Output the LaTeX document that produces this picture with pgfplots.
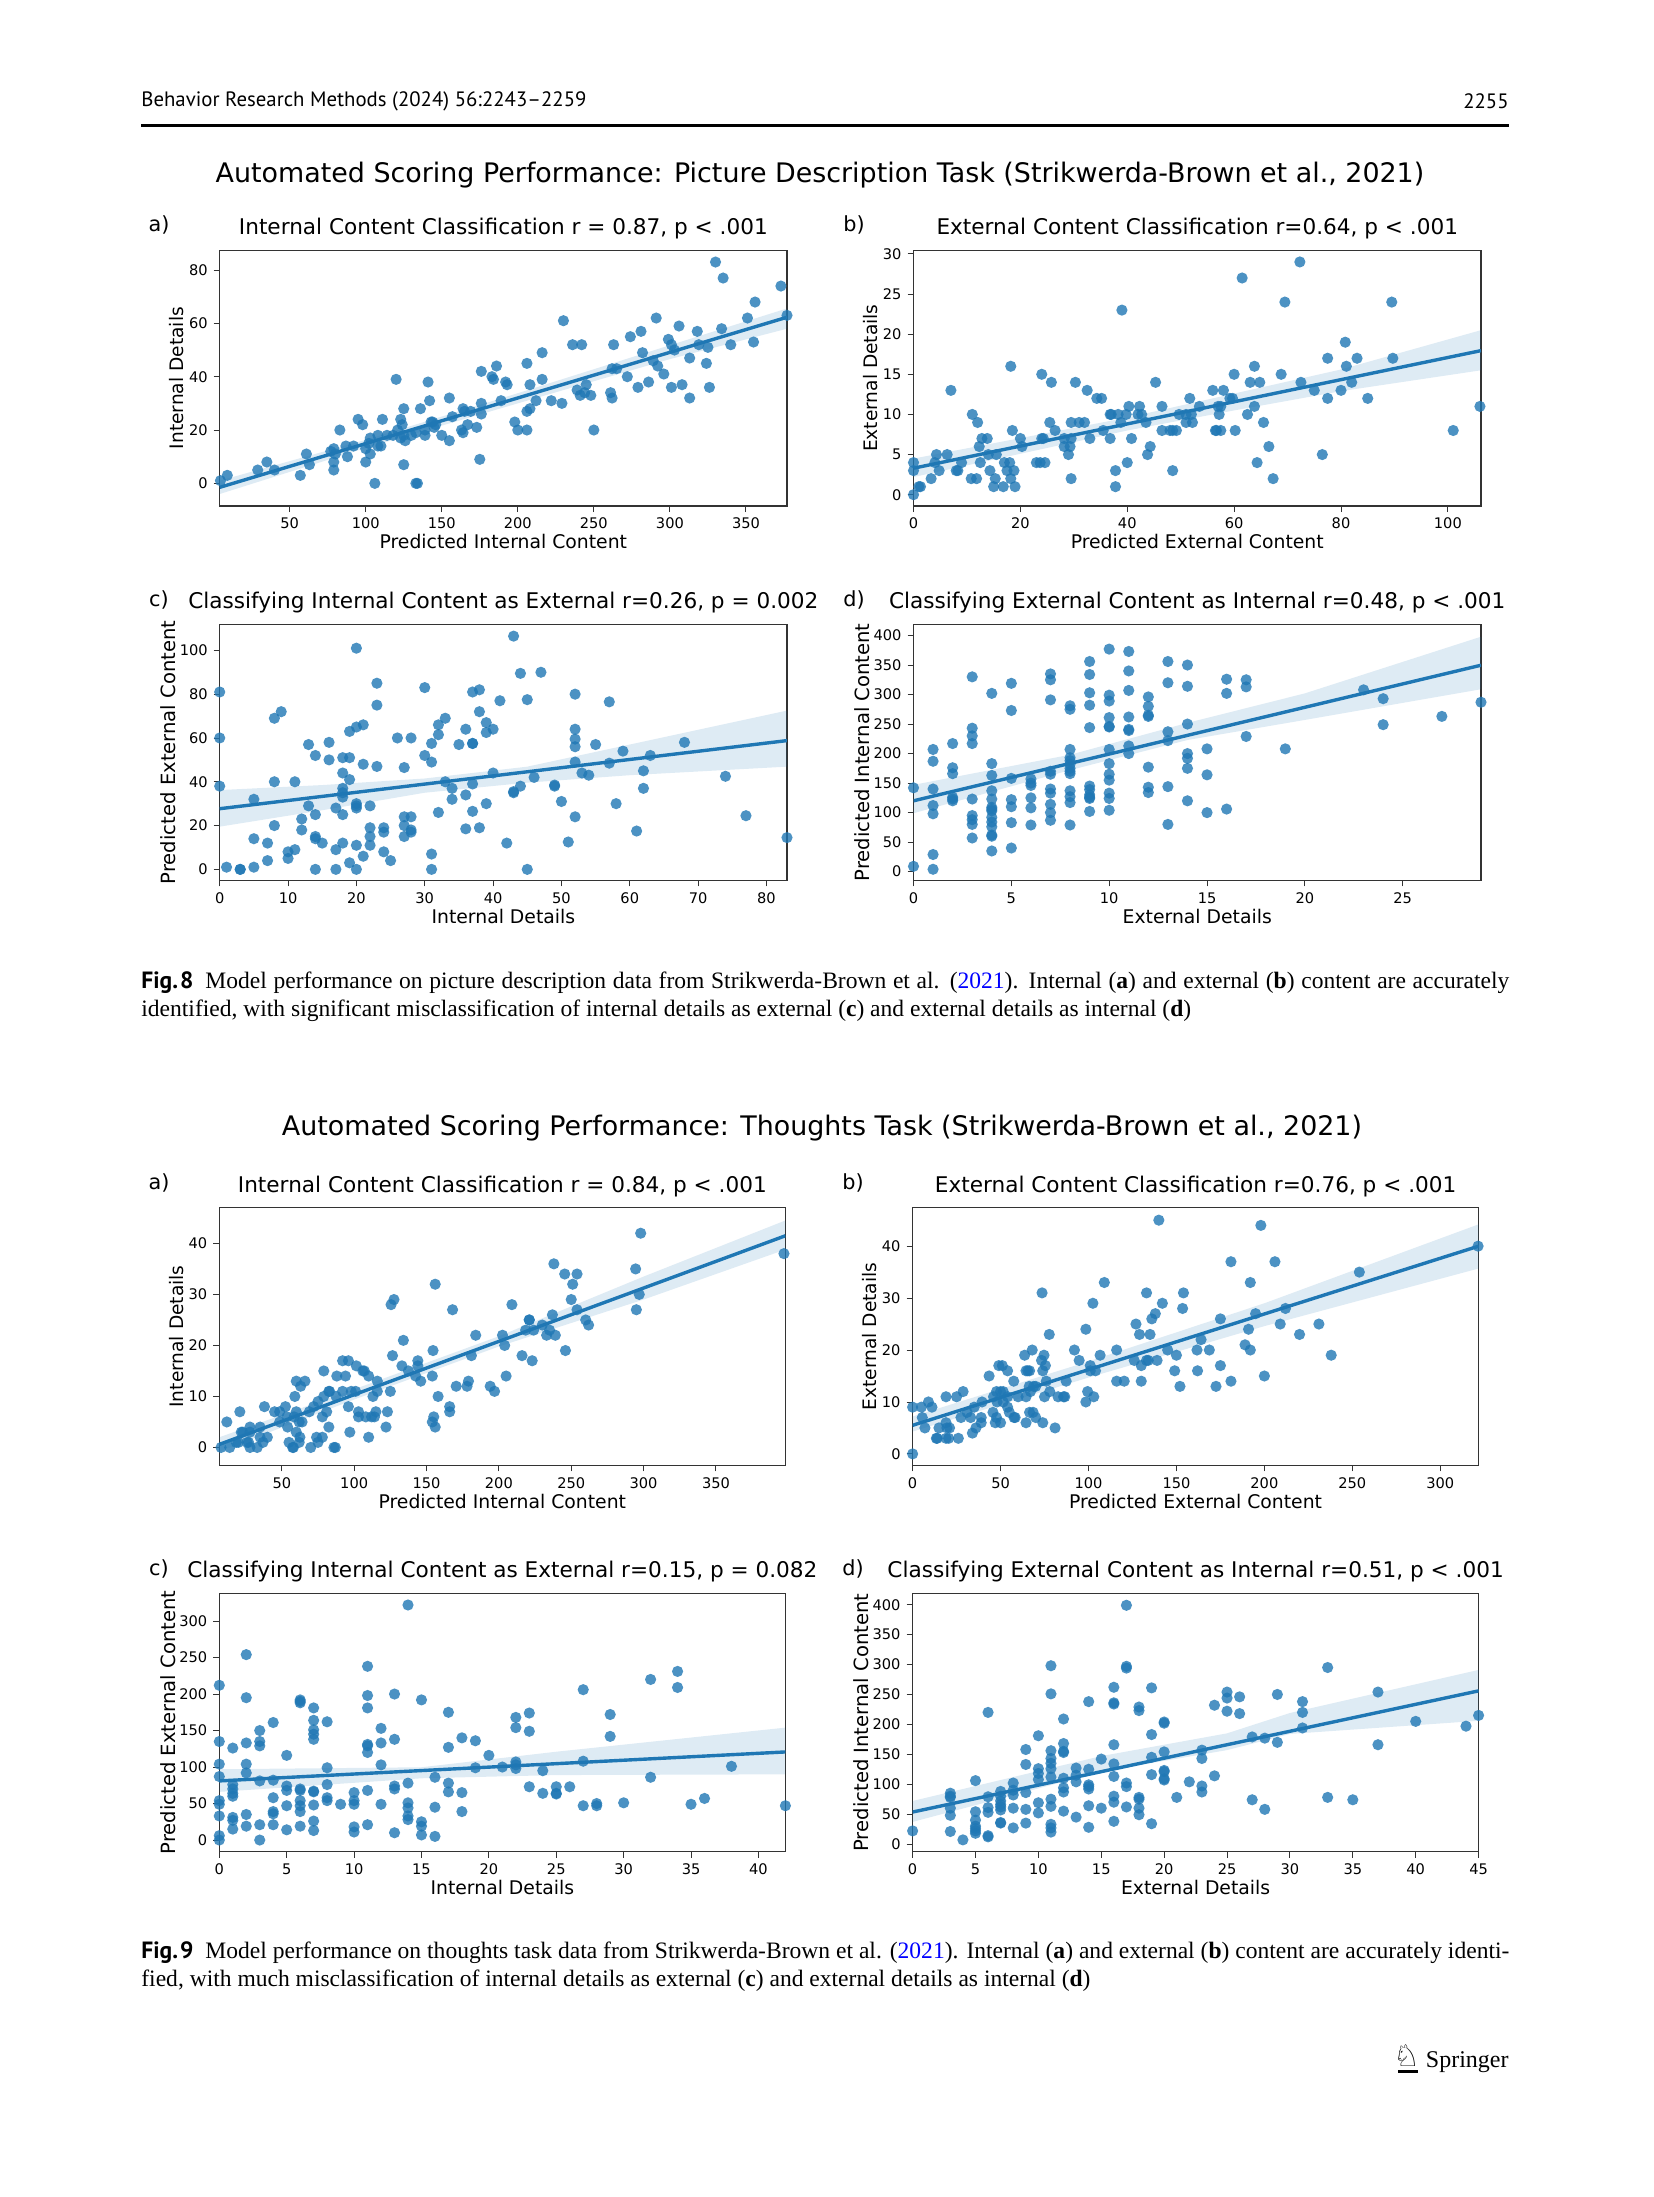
\documentclass[border=0pt]{standalone}
\usepackage{pgfplots}
\pgfplotsset{compat=1.18}
\usepackage{xcolor}
\usepackage{fontspec}
\setmainfont{DejaVu Sans}
\newfontfamily\capfont{Liberation Serif}
\newfontfamily\headfont{PT Sans}
\definecolor{tblue}{HTML}{1F77B4}
\newcommand{\fsz}[1]{\fontsize{#1}{#1}\selectfont}

% picture is 827 x 1098.5 pt, so 1 px of the reference = 0.5 pt
\pgfplotsset{
  panel/.style={
    scale only axis,
    axis line style={black!80,line width=0.55pt},
    tick align=outside,
    xtick pos=bottom, ytick pos=left,
    major tick length=3pt,
    tick style={black!80,line width=0.45pt},
    /pgf/number format/assume math mode=true,
    tick label style={font=\fsz{7.3}},
    xticklabel style={yshift=0.5pt},
    yticklabel style={xshift=0.5pt},
    title style={font=\fsz{10.8},at={(0.5,1)},anchor=center,yshift=4.8pt},
    xlabel style={font=\fsz{9.4},at={(axis description cs:0.5,-0.14)},anchor=center},
    scaled ticks=false,
  },
  ylabnear/.style={ylabel style={font=\fsz{9.3},at={(axis description cs:-0.076,0.5)},anchor=center}},
  ylabfar/.style={ylabel style={font=\fsz{9.8},at={(axis description cs:-0.09,0.5)},anchor=center}},
  dots/.style={only marks,mark=*,mark size=2.8pt,mark options={draw opacity=0,fill=tblue,fill opacity=0.8}},
  ci/.style={draw=none,fill=tblue,fill opacity=0.15,forget plot},
  fit/.style={tblue,line width=1.7pt,no marks},
}

\begin{document}
\begin{tikzpicture}
\useasboundingbox (0,0) rectangle (827pt,-1098.5pt);

% ---- Fig 8
\begin{axis}[panel,ylabnear,at={(109.85pt,-253pt)},anchor=south west,width=283.65pt,height=127.85pt,
  xmin=4,xmax=377,ymin=-8.5,ymax=87.4,
  xtick={50,100,150,200,250,300,350},ytick={0,20,40,60,80},
  title={Internal Content Classification r = 0.87, p < .001},
  xlabel={Predicted Internal Content},ylabel={Internal Details}]
\addplot[dots] coordinates {(4.5,1)(9,3)(29,5)(35,8)(40,5)(57,3)(61,11)(63,7)(77,12)(79,13)(79,8)(79,5)(80,11)(83,20)(87,14)(88,10)(92,14)(95,24)(98,22)(100,13)(100,8)(103,11)(103,17)(102,15)(106,0)(108,18)(108,14)(110,14)(111,24)(114,18)(118,18)(120,39)(121,20)(123,24)(124,22)(123,17)(125,18)(125,28)(125,7)(126,16)(130,18)(133,19)(133,0)(134,0)(136,28)(139,20)(139,18)(141,38)(142,31)(143,23)(144,23)(145,21)(146,22)(150,18)(155,32)(155,16)(157,25)(163,20)(164,19)(164,28)(165,27)(167,22)(169,27)(173,21)(175,9)(176,26)(176,42)(176,30)(183,40)(184,39)(186,44)(189,31)(192,38)(193,37)(198,23)(200,20)(206,45)(206,20)(206,27)(208,28)(208,37)(212,31)(216,49)(216,39)(222,31)(229,30)(230,61)(236,52)(239,35)(241,33)(242,52)(244,34)(245,37)(248,33)(250,20)(261,34)(262,43)(262,32)(263,52)(265,43)(272,40)(274,55)(279,36)(281,57)(282,49)(286,38)(289,46)(291,62)(292,44)(296,41)(299,54)(301,52)(301,36)(303,50)(306,59)(308,37)(313,47)(313,32)(318,57)(319,52)(324,45)(325,51)(326,36)(330,83)(334,58)(335,77)(340,52)(351,62)(355,53)(356,68)(373,74)(377,63)};
\addplot[ci] coordinates {(4,1)(100,16.3)(200,33.8)(300,51.8)(377,65.6)(377,58)(300,46.6)(200,30)(100,13.3)(4,-4)} -- cycle;
\addplot[fit] coordinates {(4,-1.5)(377,62.3)};
\end{axis}

\begin{axis}[panel,ylabnear,at={(456.75pt,-253pt)},anchor=south west,width=283.75pt,height=127.85pt,
  xmin=0,xmax=106.2,ymin=-1.41,ymax=30.45,
  xtick={0,20,40,60,80,100},ytick={0,5,10,15,20,25,30},
  title={External Content Classification r=0.64, p < .001},
  xlabel={Predicted External Content},ylabel={External Details}]
\addplot[dots] coordinates {(0,0)(1,1)(1.3,1)(0,4)(0,3)(3.3,2)(4,4)(4.3,5)(4.8,3)(6.3,5)(7,13)(8,3)(8.3,3)(9,4)(10.8,2)(11.8,2)(11,10)(12,9)(12.3,6)(12.5,4)(12.8,7)(13.8,7)(14,5)(14.3,3)(15,1)(15.3,2)(15.5,5)(16.8,1)(17,4)(17.5,3)(18,4)(18.2,2)(18.2,16)(18.5,8)(18.8,3)(19,1)(20,7)(20.3,6)(23,4)(23.7,4)(24.6,4)(24,15)(24,7)(24.3,7)(25.5,9)(25.8,14)(26.5,8)(28.2,7)(28.2,6)(29,5)(29.3,6)(29.5,9)(29.5,7)(29.5,2)(30.3,14)(31,9)(32,9)(32.5,13)(33,7)(34.3,12)(35.2,12)(35.5,8)(36.8,10)(37,10)(36.8,7)(37.8,3)(37.8,1)(38.3,10)(38.8,9)(39,23)(39.8,10)(40,4)(40.3,11)(40.8,7)(42,10)(42.3,11)(42.7,10)(43.5,9)(43.8,5)(44.3,6)(45.3,14)(46.5,11)(46.5,8)(48,8)(48.5,8)(48.5,3)(49.2,8)(49.7,10)(51,9)(51,10)(51.7,12)(52,10)(52.2,9)(53.5,11)(56,13)(56.5,8)(56.7,8)(57,11)(57.2,10)(57.5,11)(57.5,8)(58,13)(59.2,12)(59.7,12)(60,15)(60.2,8)(61.5,27)(62.5,10)(63,14)(63.8,16)(63.8,11)(64.3,4)(64.8,14)(65.5,9)(66.5,6)(67.3,2)(68.8,15)(69.5,24)(72.3,29)(72.5,14)(75,13)(76.5,5)(77.5,17)(77.5,12)(80,13)(80.8,19)(81,16)(82,14)(83,17)(85,12)(89.5,24)(89.7,17)(101,8)(106,11)};
\addplot[ci] coordinates {(0,4.5)(40,9.6)(60,12.6)(80,15.6)(106.2,20.5)(106.2,15.5)(80,12.9)(60,10.5)(40,8)(0,2.2)} -- cycle;
\addplot[fit] coordinates {(0,3.3)(106.2,17.95)};
\end{axis}

\begin{axis}[panel,ylabfar,at={(109.85pt,-440.15pt)},anchor=south west,width=283.65pt,height=128pt,
  xmin=0,xmax=83,ymin=-5,ymax=111.9,
  xtick={0,10,20,30,40,50,60,70,80},ytick={0,20,40,60,80,100},
  title={Classifying Internal Content as External r=0.26, p = 0.002},
  xlabel={Internal Details},ylabel={Predicted External Content}]
\addplot[dots] coordinates {(0,81)(0,60)(0,38)(1,1)(3,0)(3,0)(5,32)(5,14)(5,1)(7,12)(7,4)(8,69)(8,40)(8,20)(9,72)(10,8)(10,5)(11,40)(11,9)(12,23)(12,18)(13,57)(13,29)(14,52)(14,25)(14,15)(14,14)(14,0)(15,12)(16,58)(16,50)(17,28)(17,9)(17,0)(18,51)(18,44)(18,37)(18,35)(18,33)(18,25)(18,12)(19,63)(19,51)(19,41)(19,3)(20,101)(20,65)(20,30)(20,29)(20,28)(20,11)(20,0)(21,66)(21,48)(21,6)(22,29)(22,19)(22,15)(22,11)(23,85)(23,75)(23,47)(24,19)(24,17)(24,8)(25,4)(26,60)(27,46.5)(27,24)(27,20)(27,15)(28,60)(28,24)(28,18)(28,17)(30,83)(30,52)(31,57.5)(31,49)(31,7)(31,0)(32,66)(32,61.5)(32,26)(33,69)(33,40)(34,37)(34,32)(35,57)(36,64)(36,34)(36,18.5)(37,81)(37,57.5)(37,57.5)(37,39)(37,26.5)(38,82)(38,72)(38,19)(39,67)(39,62.5)(39,30)(40,64)(40,44)(41,77)(42,12)(43,106.5)(43,35.5)(43,35)(44,89.5)(44,38)(45,77.5)(45,0)(46,42)(47,90)(49,38.5)(49,38)(50,31)(51,12.5)(52,80)(52,64)(52,59.5)(52,56)(52,49)(52,24)(53,44)(54,43)(55,57)(57,76.5)(57,48.5)(58,30)(59,54)(61,17.5)(62,45)(62,37)(63,52)(68,58)(74,42.5)(77,24.5)(83,14.5)};
\addplot[ci] coordinates {(0,36.2)(15,38.5)(30,41.5)(45,46.9)(60,57)(83,72.5)(83,46.9)(60,43)(45,39.6)(30,35)(15,27)(0,19.5)} -- cycle;
\addplot[fit] coordinates {(0,27.7)(83,58.8)};
\end{axis}

\begin{axis}[panel,ylabfar,at={(456.75pt,-440.15pt)},anchor=south west,width=283.75pt,height=128pt,
  xmin=0,xmax=29,ymin=-14.7,ymax=419,
  xtick={0,5,10,15,20,25},ytick={0,50,100,150,200,250,300,350,400},
  title={Classifying External Content as Internal r=0.48, p < .001},
  xlabel={External Details},ylabel={Predicted Internal Content}]
\addplot[dots] coordinates {(0,142)(0,9)(1,207)(1,187)(1,140)(1,112)(1,98)(1,29)(1,4)(2,217)(2,176)(2,166)(2,126)(2,123)(2,120)(3,330)(3,243)(3,230)(3,217)(3,123)(3,95)(3,88)(3,80)(3,57)(4,302)(4,183)(4,163)(4,137)(4,123)(4,109)(4,106)(4,103)(4,92)(4,84)(4,76)(4,62)(4,60)(4,35)(5,319)(5,273)(5,158)(5,122)(5,110)(5,83)(5,40)(6,157)(6,150)(6,146)(6,125)(6,108)(6,79)(7,335)(7,325)(7,291)(7,170)(7,165)(7,140)(7,133)(7,114)(7,100)(7,87)(8,281)(8,275)(8,207)(8,193)(8,188)(8,182)(8,175)(8,170)(8,166)(8,137)(8,127)(8,117)(8,79)(9,356)(9,334)(9,303)(9,282)(9,244)(9,145)(9,139)(9,130)(9,126)(9,124)(9,102)(10,377)(10,299)(10,289)(10,261)(10,246)(10,245)(10,207)(10,183)(10,165)(10,155)(10,133)(10,124)(10,104)(11,373)(11,340)(11,307)(11,262)(11,241)(11,239)(11,213)(11,200)(12,296)(12,280)(12,265)(12,263)(12,177)(12,143)(12,134)(13,356)(13,320)(13,237)(13,222)(13,144)(13,80)(14,350)(14,314)(14,250)(14,200)(14,192)(14,175)(14,120)(15,208)(15,164)(15,100)(16,326)(16,302)(16,106)(17,325)(17,313)(17,229)(19,208)(23,308)(24,293)(24,249)(27,263)(29,287)};
\addplot[ci] coordinates {(0,147)(8,198)(14,252)(20,302)(29,398)(29,309)(20,257)(14,223)(8,172)(0,99)} -- cycle;
\addplot[fit] coordinates {(0,120)(29,349.7)};
\end{axis}

% ---- Fig 9
\begin{axis}[panel,ylabnear,at={(109.65pt,-732.65pt)},anchor=south west,width=283.05pt,height=128.8pt,
  xmin=6.8,xmax=398,ymin=-3.5,ymax=47,
  xtick={50,100,150,200,250,300,350},ytick={0,10,20,30,40},
  title={Internal Content Classification r = 0.84, p < .001},
  xlabel={Predicted Internal Content},ylabel={Internal Details}]
\addplot[dots] coordinates {(8,0)(12,5)(14,0)(18.5,1)(20,1)(21,7)(22,3)(23,3)(26,1)(27,1)(28,4)(28,3)(28,0)(33,0)(35,4)(35,2)(37,1)(38,8)(40,2)(45,7)(48.5,7)(48.5,5)(52.5,8)(53.5,6)(54,4)(55,1)(57.5,0)(58,0)(58.5,6)(60,7)(59,10)(60,13)(60,3)(62,5)(62,1)(63,12)(62.5,2)(64,5)(66,13)(69,7)(70,0)(72,8)(74,2)(75,1)(75,9)(78,2)(78,6)(79,15)(79,10)(81,7)(82.5,4)(82.5,11)(83,11)(86,0)(87,0)(87.5,10)(88,14)(92,17)(92,11)(94,14)(96,8)(96,17)(97,3)(98,11)(101,11)(101.5,16)(103,7)(103,6)(106,15)(107,15)(108,6)(110,14)(110,2)(112,6)(113,10)(114,6)(115,7)(116,11)(116,13)(122,4)(123,7)(125,11)(125.5,28)(126.5,18)(127.5,29)(133,16)(134,21)(137.5,15)(142.5,14)(144,17)(144,16)(146,13)(154,14)(154.5,19)(154,5)(155,6)(156,32)(156,4)(158,10)(166,8)(166,7)(168,27)(170.5,12)(178,12)(179,13)(181,18)(184,22)(194,12)(197,11)(202.5,22)(204,20)(205,14)(209,28)(216,18)(218.5,23)(221,25)(221,25)(223,17)(224,23)(230,24)(233,22)(235,23)(237,26)(238,36)(239,22)(245.5,34)(246,19)(250,29)(251,32)(254,27)(254,34)(260,25)(262,24)(294.5,35)(295,27)(297,30)(298,42)(397,38)};
\addplot[ci] coordinates {(6.8,2)(100,11.4)(200,21.8)(300,33.5)(398,44.5)(398,38.8)(300,29)(200,19.8)(100,9.4)(6.8,-0.8)} -- cycle;
\addplot[fit] coordinates {(6.8,0.6)(398,41.5)};
\end{axis}

\begin{axis}[panel,ylabnear,at={(456.3pt,-732.65pt)},anchor=south west,width=283pt,height=128.8pt,
  xmin=0,xmax=321.8,ymin=-2.2,ymax=47.4,
  xtick={0,50,100,150,200,250,300},ytick={0,10,20,30,40},
  title={External Content Classification r=0.76, p < .001},
  xlabel={Predicted External Content},ylabel={External Details}]
\addplot[dots] coordinates {(0,0)(0,9)(5,9)(5.5,7)(7,5)(9,10)(11,9)(13.5,3)(14,3)(15,5)(19,6)(19,11)(19,3)(19.5,5)(20.5,3)(21,5)(25,11)(26,3)(27.5,7)(28.7,12)(31,8)(33,7)(34,4)(35,9)(36,5)(39,7)(39,6)(39.5,10)(43.5,15)(45.7,8)(46,11)(47,6)(47.7,7)(47.7,12)(48,10)(49,17)(50,6)(50,12)(51,17)(51.5,12)(51.5,10)(54,16)(54,9)(54,11)(55,8)(57.5,14)(57.7,7)(58.3,7)(60,11)(63.7,19)(64.5,16)(64.5,11)(64.5,6)(65.5,16)(66.5,16)(66.3,13)(66.5,8)(67,12)(68,20)(68.5,8)(68.8,13)(70,13)(70,7)(73.3,18)(73.6,31)(74,6)(74,16)(74.7,19)(75,11)(75.5,17)(76,14)(77.7,23)(78,12)(81,5)(82.7,11)(85.8,11)(86.5,11)(87.3,14)(92,20)(94.7,18)(98.5,10)(98.5,24)(99.5,12)(101,17)(101,16)(102.5,29)(103,11)(104,16)(106.6,19)(109,33)(116,14)(116,20)(120.3,14)(126,18)(127,25)(129,23)(130,17)(130,14)(133,31)(133,18)(134,18)(135,23)(136,26)(138,27)(139,18)(142,29)(145,20)(149,16)(150,19)(140,45)(152,13)(153.5,28)(154,31)(161.7,20)(162,16)(164,22)(168.7,20)(172.5,13)(175,17)(175,26)(181,14)(181,37)(189,21)(191,24)(192,33)(192,20)(195,27)(198,44)(200,15)(206,37)(209,25)(212,28)(220,23)(231,25)(238,19)(254,35)(321.5,40)};
\addplot[ci] coordinates {(0,7.2)(100,17.8)(200,29)(321.8,44.2)(321.8,35.7)(200,24.6)(100,14.7)(0,4.3)} -- cycle;
\addplot[fit] coordinates {(0,5.5)(321.8,40)};
\end{axis}

\begin{axis}[panel,ylabfar,at={(109.65pt,-925.85pt)},anchor=south west,width=283.05pt,height=129.2pt,
  xmin=0,xmax=42,ymin=-16,ymax=338,
  xtick={0,5,10,15,20,25,30,35,40},ytick={0,50,100,150,200,250,300},
  title={Classifying Internal Content as External r=0.15, p = 0.082},
  xlabel={Internal Details},ylabel={Predicted External Content}]
\addplot[dots] coordinates {(0,212)(0,135)(0,104)(0,87)(0,54)(0,49)(0,33)(0,6)(0,0)(1,126)(1,76)(1,70)(1,64)(1,60)(1,31)(1,27)(1,15)(2,254)(2,195)(2,133)(2,104)(2,92)(2,35)(2,19)(3,150)(3,135)(3,129)(3,81)(3,21)(3,0)(4,161)(4,82)(4,58)(4,39)(4,36)(4,21)(5,116)(5,74)(5,68)(5,47)(5,14)(6,192)(6,190)(6,188)(6,70)(6,68)(6,54)(6,47)(6,39)(6,19)(7,181)(7,164)(7,151)(7,145)(7,138)(7,67)(7,66)(7,48)(7,26)(7,13)(8,162)(8,99)(8,76)(8,58)(8,54)(9,49)(10,65)(10,54)(10,49)(10,18)(10,11)(11,238)(11,198)(11,181)(11,131)(11,129)(11,120)(11,68)(11,21)(12,153)(12,133)(12,103)(12,49)(13,200)(13,138)(13,74)(13,70)(13,10)(14,322)(14,78)(14,51)(14,44)(14,33)(14,28)(15,192)(15,25)(15,19)(15,7)(16,86)(16,45)(16,5)(17,175)(17,127)(17,78)(17,66)(18,140)(18,65)(18,39)(19,136)(19,99)(20,116)(21,100)(22,168)(22,154)(22,107)(22,103)(22,98)(23,174)(23,149)(23,73)(24,95)(24,64)(25,73)(25,64)(25,63)(26,73)(27,206)(27,108)(27,47)(28,50)(28,47)(29,172)(29,142)(30,51)(32,220)(32,86)(34,231)(34,209)(35,49)(36,57)(38,101)(42,47)};
\addplot[ci] coordinates {(0,97)(15,99.7)(25,121)(42,154)(42,90)(25,89)(15,84.6)(0,66)} -- cycle;
\addplot[fit] coordinates {(0,81)(42,120.7)};
\end{axis}

\begin{axis}[panel,ylabfar,at={(456.3pt,-925.85pt)},anchor=south west,width=283pt,height=129.2pt,
  xmin=0,xmax=45,ymin=-12.8,ymax=419,
  xtick={0,5,10,15,20,25,30,35,40,45},ytick={0,50,100,150,200,250,300,350,400},
  title={Classifying External Content as Internal r=0.51, p < .001},
  xlabel={External Details},ylabel={Predicted Internal Content}]
\addplot[dots] coordinates {(0,22)(3,85)(3,80)(3,78)(3,60)(3,48)(3,21)(4,7)(5,106)(5,54)(5,40)(5,30)(5,26)(5,22)(5,18)(6,220)(6,79)(6,61)(6,53)(6,14)(6,12)(7,88)(7,80)(7,72)(7,66)(7,62)(7,57)(7,36)(7,35)(8,102)(8,90)(8,82)(8,60)(8,27)(9,158)(9,133)(9,86)(9,58)(9,35)(10,181)(10,126)(10,118)(10,108)(10,69)(10,52)(11,298)(11,251)(11,156)(11,143)(11,135)(11,126)(11,112)(11,75)(11,63)(11,33)(11,27)(11,20)(12,209)(12,168)(12,155)(12,153)(12,110)(12,94)(12,87)(12,55)(13,127)(13,115)(13,104)(13,45)(14,238)(14,125)(14,99)(14,96)(14,92)(14,64)(14,28)(15,142)(15,60)(16,262)(16,236)(16,234)(16,166)(16,134)(16,113)(16,80)(16,70)(16,38)(17,399)(17,297)(17,294)(17,102)(17,96)(17,62)(18,229)(18,223)(18,78)(18,75)(18,60)(18,49)(19,261)(19,183)(19,145)(19,116)(19,34)(20,204)(20,202)(20,154)(20,123)(20,121)(20,109)(20,107)(21,78)(22,104)(23,157)(23,143)(23,97)(23,87)(24,232)(24,114)(25,254)(25,244)(25,222)(26,246)(26,218)(27,179)(27,74)(28,177)(28,58)(29,250)(29,170)(31,238)(31,220)(31,194)(33,295)(33,78)(35,74)(37,254)(37,166)(40,205)(44,197)(45,215)};
\addplot[ci] coordinates {(0,72)(15,147)(25,185)(30,219)(45,291)(45,206)(30,184)(25,157)(15,121)(0,37)} -- cycle;
\addplot[fit] coordinates {(0,53.5)(45,256)};
\end{axis}

% ---- page furniture, coordinates in reference pixels
\begin{scope}[x=0.5pt,y=-0.5pt]
\node[anchor=west,inner sep=0,font=\headfont\fsz{10.4}] at (141,101.5) {Behavior Research Methods (2024) 56:2243–2259};
\node[anchor=east,inner sep=0,font=\headfont\fsz{10.4}] at (1509,101.5) {2255};
\fill (141,124.4) rectangle (1509,127.1);
\node[font=\fsz{13.45}] at (820,175) {Automated Scoring Performance: Picture Description Task (Strikwerda-Brown et al., 2021)};
\node[font=\fsz{13.45}] at (822,1128) {Automated Scoring Performance: Thoughts Task (Strikwerda-Brown et al., 2021)};
\foreach \lab/\xx/\yy in {a)/159/225,b)/854/225,c)/159/600,d)/854/600,a)/159/1183,b)/853/1183,c)/159/1569,d)/853/1569}
  \node[font=\fsz{10.4}] at (\xx,\yy) {\lab};
\node[anchor=base west,inner sep=0,font=\capfont\fsz{11.77}] at (141,988) {\makebox[684pt][s]{{\headfont\bfseries Fig.\hspace{1pt}8}\hspace{6pt}Model performance on picture description data from Strikwerda-Brown et al. (\textcolor{blue}{2021}). Internal (\textbf{a}) and external (\textbf{b}) content are accurately}};
\node[anchor=base west,inner sep=0,font=\capfont\fsz{11.77}] at (141,1016) {identified, with significant misclassification of internal details as external (\textbf{c}) and external details as internal (\textbf{d})};
\node[anchor=base west,inner sep=0,font=\capfont\fsz{11.77}] at (141,1958) {\makebox[684pt][s]{{\headfont\bfseries Fig.\hspace{1pt}9}\hspace{6pt}Model performance on thoughts task data from Strikwerda-Brown et al. (\textcolor{blue}{2021}). Internal (\textbf{a}) and external (\textbf{b}) content are accurately identi-}};
\node[anchor=base west,inner sep=0,font=\capfont\fsz{11.77}] at (141,1986) {fied, with much misclassification of internal details as external (\textbf{c}) and external details as internal (\textbf{d})};
\node[inner sep=0,font=\fsz{15}] at (1407,2056) {♘};
\fill (1398,2070) rectangle (1418,2073);
\node[anchor=base east,inner sep=0,font=\capfont\fsz{12}] at (1509,2067) {Springer};
\end{scope}
\end{tikzpicture}
\end{document}
